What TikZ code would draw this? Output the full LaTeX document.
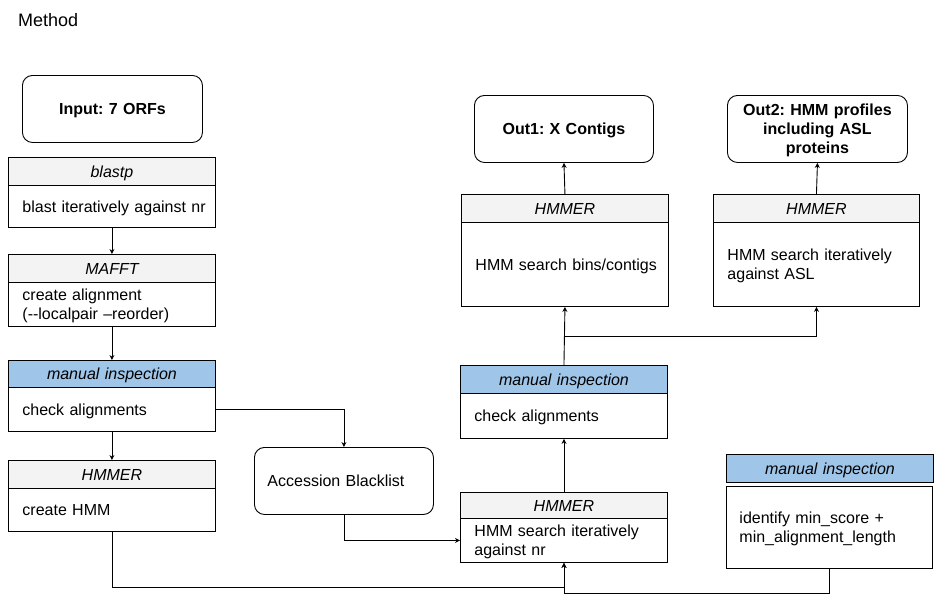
\documentclass[tikz,border=0pt]{standalone}
\usepackage{fontspec}
\setmainfont{Liberation Sans}
\usetikzlibrary{arrows.meta,calc}
\definecolor{hdrgray}{HTML}{F3F3F3}
\definecolor{hdrblue}{HTML}{9FC5E8}
\newcommand\fs{\fontsize{16}{18.8}\selectfont\frenchspacing}
\newcommand\st{\rule[-3.4pt]{0pt}{17.9pt}}
\tikzset{
  base/.style={draw, line width=0.9pt, anchor=north west, inner ysep=0pt, font=\fs},
  hdr/.style={base, fill=hdrgray, inner xsep=0pt, align=center, font=\fs\itshape},
  hdrb/.style={hdr, fill=hdrblue},
  body/.style={base, fill=white, inner xsep=14pt, align=left},
  rbox/.style={base, fill=white, rounded corners=10pt, inner xsep=0pt, align=center},
  arr/.style={line width=0.9pt, -{Stealth[length=5pt,width=5pt]}},
  ln/.style={line width=0.9pt}
}
\begin{document}
\begin{tikzpicture}[x=1pt,y=-1pt]
\useasboundingbox (0,0) rectangle (940,606);
\node[anchor=west, inner sep=0pt, font=\fontsize{18}{20}\selectfont] (title) at (18,20) {Method};

% left column
\node[rbox, text width=180pt, minimum height=67pt, font=\fs\bfseries] (input) at (22,75) {\st Input: 7 ORFs};
\node[hdr, text width=207pt, minimum height=28pt] (b1h) at (8,157) {\st blastp};
\node[body, text width=179pt, minimum height=42pt] (b1b) at (8,185) {\st\mbox{blast iteratively against nr}};
\node[hdr, text width=207pt, minimum height=28pt] (mfh) at (8,254) {\st MAFFT};
\node[body, text width=179pt, minimum height=44pt] (mfb) at (8,282) {\st create alignment\\\st(-{}-localpair –reorder)};
\node[hdrb, text width=207pt, minimum height=27pt] (mi1h) at (8,360) {\st manual inspection};
\node[body, text width=179pt, minimum height=44pt] (mi1b) at (8,387) {\st check alignments};
\node[hdr, text width=207pt, minimum height=28pt] (hm1h) at (8,460) {\st HMMER};
\node[body, text width=179pt, minimum height=43pt] (hm1b) at (8,488) {\st create HMM};

% accession
\node[rbox, text width=153pt, inner xsep=13pt, align=left, minimum height=67pt] (acc) at (254,447) {\st Accession Blacklist};

% outputs
\node[rbox, text width=179pt, minimum height=67pt, font=\fs\bfseries] (out1) at (474,95) {\st Out1: X Contigs};
\node[rbox, text width=180pt, minimum height=67pt, font=\fs\bfseries] (out2) at (727,95) {\st Out2: HMM profiles\\\st including ASL\\\st proteins};

% HMMER top row
\node[hdr, text width=207pt, minimum height=28pt] (hm3h) at (461,194) {\st HMMER};
\node[body, text width=179pt, minimum height=84pt] (hm3b) at (461,222) {\st\mbox{HMM search bins/contigs}};
\node[hdr, text width=206pt, minimum height=28pt] (hm4h) at (713,194) {\st HMMER};
\node[body, text width=178pt, minimum height=84pt] (hm4b) at (713,222) {\st\mbox{HMM search iteratively}\\\st against ASL};

% middle column
\node[hdrb, text width=207pt, minimum height=28pt] (mi2h) at (460,365) {\st manual inspection};
\node[body, text width=179pt, minimum height=45pt] (mi2b) at (460,393) {\st check alignments};
\node[hdr, text width=207pt, minimum height=26pt] (hm2h) at (460,492) {\st HMMER};
\node[body, text width=179pt, minimum height=44pt] (hm2b) at (460,518) {\st\mbox{HMM search iteratively}\\\st against nr};

% right bottom
\node[hdrb, text width=207pt, minimum height=28pt] (mi3h) at (726,454) {\st manual inspection};
\node[body, text width=180pt, inner xsep=13pt, minimum height=82pt] (mi3b) at (726,486) {\st identify min\_score +\\\st\mbox{min\_alignment\_length}};

% connectors
\draw[arr] (b1b.south) -- (mfh.north);
\draw[arr] (mfb.south) -- (mi1h.north);
\draw[arr] (mi1b.south) -- (hm1h.north);
\draw[arr] (mi1b.east) -| (acc.north);
\draw[arr] (acc.south) |- (hm2b.west);
\draw[arr] (hm1b.south) -- ++(0,56) -| (hm2b.south);
\draw[arr] (mi3b.south) -- ++(0,25) -| (hm2b.south);
\draw[arr] (hm2h.north) -- (mi2b.south);
\coordinate (br) at ($(mi2h.north)!0.5!(hm3b.south)$);
\draw[arr] (mi2h.north) -- (hm3b.south);
\draw[arr] (br) -| (hm4b.south);
\draw[arr] (hm3h.north) -- (out1.south);
\draw[arr] (hm4h.north) -- (out2.south);
\end{tikzpicture}
\end{document}
